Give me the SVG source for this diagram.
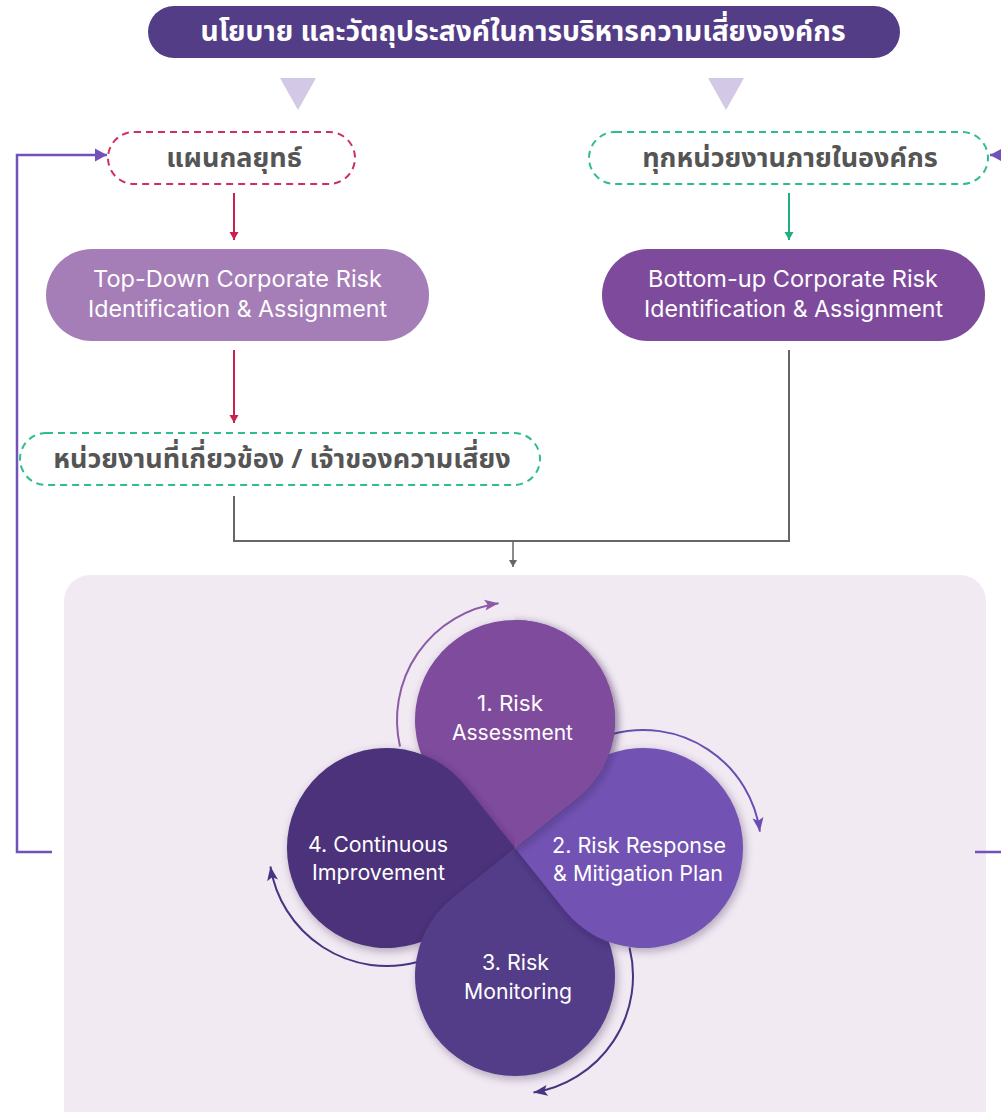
<svg xmlns="http://www.w3.org/2000/svg" width="1001" height="1112" viewBox="0 0 1001 1112">
<style>
.th{font-family:"Noto Sans Thai","Noto Sans","DejaVu Sans",sans-serif;font-weight:bold;text-anchor:middle;dominant-baseline:central}
.thg{fill:#555555;font-size:27px}
.en{font-family:Inter,"Open Sans","Liberation Sans",sans-serif;fill:#ffffff;text-anchor:middle;dominant-baseline:central}
.pill{font-size:23px}
.pt{font-size:21px}
.dash{fill:none;stroke-width:2;stroke-dasharray:7 5}
</style>
<defs>
<marker id="mRed" markerWidth="10" markerHeight="10" refX="8" refY="5" orient="auto" markerUnits="userSpaceOnUse"><path d="M0,0.5 L8,5 L0,9.5 Z" fill="#c8234f"/></marker>
<marker id="mGreen" markerWidth="10" markerHeight="10" refX="8" refY="5" orient="auto" markerUnits="userSpaceOnUse"><path d="M0,0.5 L8,5 L0,9.5 Z" fill="#1fb07b"/></marker>
<marker id="mGray" markerWidth="10" markerHeight="10" refX="7" refY="4" orient="auto" markerUnits="userSpaceOnUse"><path d="M0,0 L7,4 L0,8 Z" fill="#666666"/></marker>
<marker id="mPurp" markerWidth="14" markerHeight="14" refX="12" refY="7" orient="auto" markerUnits="userSpaceOnUse"><path d="M0,0.5 L12,7 L0,13.5 Z" fill="#7252b8"/></marker>
<marker id="mA" markerWidth="16" markerHeight="12" refX="14" refY="6" orient="auto" markerUnits="userSpaceOnUse"><path d="M0,0.5 L14,6 L0,11.5 L3,6 Z" fill="#8c5ba6"/></marker>
<marker id="mB" markerWidth="16" markerHeight="12" refX="14" refY="6" orient="auto" markerUnits="userSpaceOnUse"><path d="M0,0.5 L14,6 L0,11.5 L3,6 Z" fill="#6b4db2"/></marker>
<marker id="mC" markerWidth="16" markerHeight="12" refX="14" refY="6" orient="auto" markerUnits="userSpaceOnUse"><path d="M0,0.5 L14,6 L0,11.5 L3,6 Z" fill="#4a3380"/></marker>
<filter id="sh" x="-30%" y="-30%" width="160%" height="160%"><feDropShadow dx="2" dy="3" stdDeviation="4" flood-color="#2a1840" flood-opacity="0.35"/></filter>
<clipPath id="clipR"><rect x="515" y="600" width="200" height="262"/></clipPath>
</defs>

<g id="banner">
<rect x="148" y="6" width="752" height="52" rx="26" fill="#533d87"/>
<text class="th" x="523" y="32" font-size="28" fill="#ffffff" textLength="645" lengthAdjust="spacingAndGlyphs">นโยบาย และวัตถุประสงค์ในการบริหารความเสี่ยงองค์กร</text>
</g>
<g id="triangles" fill="#d3c8e6">
<polygon points="280,78 316,78 298,110"/>
<polygon points="708,78 744,78 726,110"/>
</g>

<g id="strategy">
<rect class="dash" x="108" y="132" width="247" height="52" rx="26" stroke="#d0305e"/>
<text class="th thg" x="234" y="158">แผนกลยุทธ์</text>
</g>
<g id="allunits">
<rect class="dash" x="589" y="132" width="399" height="52" rx="26" stroke="#2dbe8b"/>
<text class="th thg" x="790" y="158">ทุกหน่วยงานภายในองค์กร</text>
</g>
<g id="topdown">
<rect x="46" y="249" width="383" height="92" rx="46" fill="#a57db7"/>
<text class="en pill" x="237.5" y="279" textLength="289" lengthAdjust="spacingAndGlyphs">Top-Down Corporate Risk</text>
<text class="en pill" x="237.5" y="309" textLength="299" lengthAdjust="spacingAndGlyphs">Identification &amp; Assignment</text>
</g>
<g id="bottomup">
<rect x="602" y="249" width="383" height="92" rx="46" fill="#7e4a9c"/>
<text class="en pill" x="793" y="279" textLength="290" lengthAdjust="spacingAndGlyphs">Bottom-up Corporate Risk</text>
<text class="en pill" x="793.5" y="309" textLength="299" lengthAdjust="spacingAndGlyphs">Identification &amp; Assignment</text>
</g>
<g id="owners">
<rect class="dash" x="20" y="433" width="520" height="52" rx="26" stroke="#2dbe8b"/>
<text class="th thg" x="282" y="459">หน่วยงานที่เกี่ยวข้อง / เจ้าของความเสี่ยง</text>
</g>

<g id="process-area">
<rect x="64" y="575" width="922" height="560" rx="26" fill="#f2eaf3"/>
</g>

<g id="connectors" fill="none">
<line x1="234" y1="193" x2="234" y2="240" stroke="#c8234f" stroke-width="2" marker-end="url(#mRed)"/>
<line x1="234" y1="350" x2="234" y2="423" stroke="#c8234f" stroke-width="2" marker-end="url(#mRed)"/>
<line x1="789" y1="193" x2="789" y2="240" stroke="#1fb07b" stroke-width="2" marker-end="url(#mGreen)"/>
<polyline points="234,496 234,541 789,541 789,350" stroke="#666666" stroke-width="2"/>
<line x1="513" y1="541" x2="513" y2="567" stroke="#666666" stroke-width="1.5" marker-end="url(#mGray)"/>
<polyline points="52,852 17,852 17,155 107,155" stroke="#7252b8" stroke-width="2.5" marker-end="url(#mPurp)"/>
<polyline points="975,852 1010,852" stroke="#7252b8" stroke-width="2.5"/>
<polyline points="1010,155 990,155" stroke="#7252b8" stroke-width="2.5" marker-end="url(#mPurp)"/>
<path d="M400,746.5 A118,118 0 0 1 498.6,603.2" stroke="#8c5ba6" stroke-width="2" marker-end="url(#mA)"/>
<path d="M612.4,734 A118,118 0 0 1 759.9,831.6" stroke="#6b4db2" stroke-width="2" marker-end="url(#mB)"/>
<path d="M629.5,947.5 A118,118 0 0 1 533.5,1092.6" stroke="#4a3380" stroke-width="2" marker-end="url(#mC)"/>
<path d="M417.5,962 A118,118 0 0 1 270.4,866.5" stroke="#4a3380" stroke-width="2" marker-end="url(#mC)"/>
</g>

<g id="petal1">
<path d="M515,848 L577.4,798.1 A100,100 0 1 0 452.6,798.1 Z" fill="#7f4b9c" filter="url(#sh)"/>
</g>
<g id="petal4">
<path d="M515,848 L465.1,785.6 A100,100 0 1 0 465.1,910.4 Z" fill="#4b327a" filter="url(#sh)"/>
<text class="en pt" x="378" y="844" textLength="140" lengthAdjust="spacingAndGlyphs">4. Continuous</text>
<text class="en pt" x="378.5" y="872" textLength="133" lengthAdjust="spacingAndGlyphs">Improvement</text>
</g>
<g id="petal3">
<path d="M515,848 L577.4,897.9 A100,100 0 1 1 452.6,897.9 Z" fill="#523d89" filter="url(#sh)"/>
<text class="en pt" x="515.5" y="962" textLength="67" lengthAdjust="spacingAndGlyphs">3. Risk</text>
<text class="en pt" x="518" y="991" textLength="108" lengthAdjust="spacingAndGlyphs">Monitoring</text>
</g>
<g id="petal2">
<path d="M515,848 L564.9,785.6 A100,100 0 1 1 564.9,910.4 Z" fill="#7252b3" filter="url(#sh)"/>
<text class="en pt" x="639" y="845" textLength="174" lengthAdjust="spacingAndGlyphs">2. Risk Response</text>
<text class="en pt" x="638" y="873" textLength="170" lengthAdjust="spacingAndGlyphs">&amp; Mitigation Plan</text>
</g>
<g id="petal1-top" clip-path="url(#clipR)">
<path d="M515,848 L577.4,798.1 A100,100 0 1 0 452.6,798.1 Z" fill="#7f4b9c" filter="url(#sh)"/>
</g>
<g id="petal1-label">
<text class="en pt" x="510" y="703" textLength="66" lengthAdjust="spacingAndGlyphs">1. Risk</text>
<text class="en pt" x="512.5" y="732" textLength="121" lengthAdjust="spacingAndGlyphs">Assessment</text>
</g>
</svg>
